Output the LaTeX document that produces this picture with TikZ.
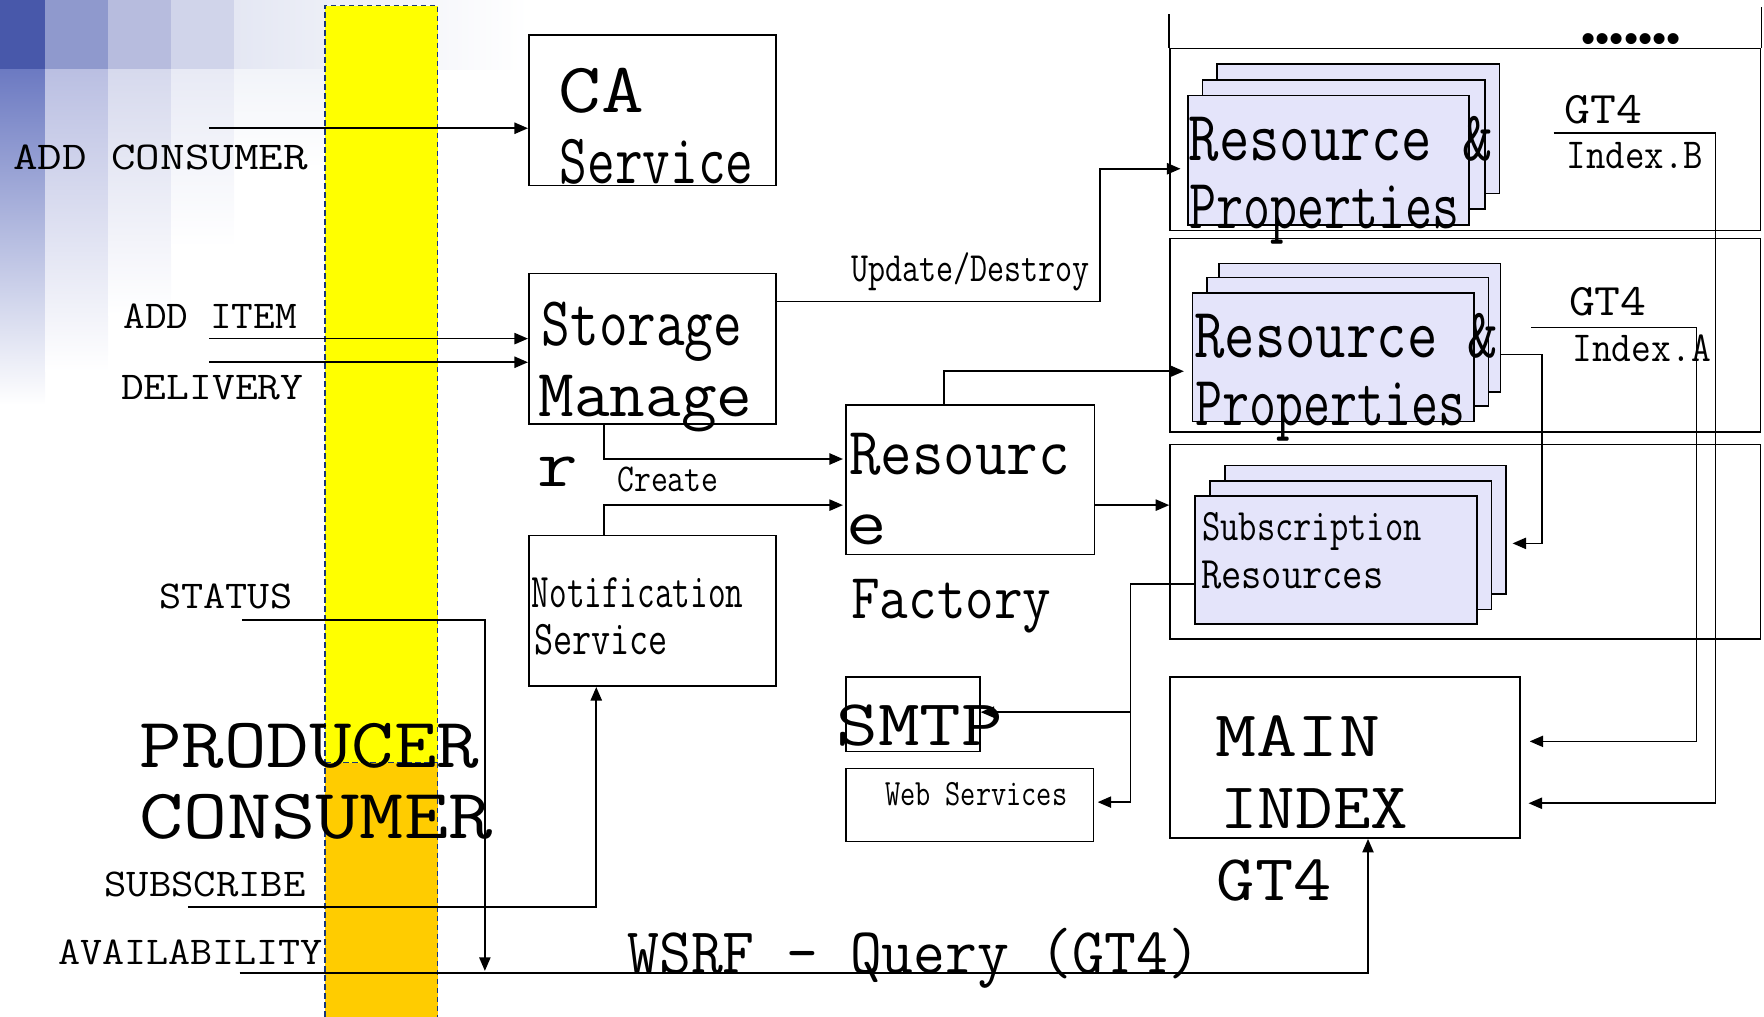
\documentclass[tikz,border=0pt]{standalone}
\usepackage{graphicx}
\usepackage{fontspec}
\usetikzlibrary{arrows.meta}
\newfontfamily\dotsfont{Liberation Sans}
% text of size #1 squeezed or stretched to width #2
\newcommand\tx[3]{\resizebox{#2pt}{\height}{\fontsize{#1}{#1}\selectfont #3}}
\definecolor{bandblue}{RGB}{25,55,120}
\definecolor{bandyellow}{RGB}{255,255,0}
\definecolor{bandorange}{RGB}{255,204,0}
\definecolor{cardfill}{RGB}{228,228,250}
\definecolor{bgA}{RGB}{72,88,170}
\definecolor{bgAl}{RGB}{108,122,194}
\definecolor{bgB}{RGB}{143,153,205}
\definecolor{bgBl}{RGB}{186,191,226}
\definecolor{bgC}{RGB}{183,188,222}
\definecolor{bgCl}{RGB}{214,217,237}
\definecolor{bgD}{RGB}{208,212,234}
\definecolor{bgDl}{RGB}{232,234,245}
\definecolor{bgE}{RGB}{228,231,243}
\definecolor{bgEl}{RGB}{242,244,249}
\begin{document}
\begin{tikzpicture}[x=1pt,y=-1pt,line width=1.4pt,
  box/.style={draw,inner sep=0pt},
  card/.style={draw,fill=cardfill,inner sep=0pt},
  lbl/.style={inner sep=0pt,anchor=base west,font=\ttfamily},
  arr/.style={-{Triangle[length=12pt,width=10pt]}},
  bandline/.style={draw=bandblue,line width=1.2pt,dash pattern=on 5pt off 3pt}]
\useasboundingbox (0,0) rectangle (1568,904);

% corner decoration of the slide
\fill[bgA] (0,0) rectangle (40,62);
\fill[bgB] (40,0) rectangle (96,62);
\fill[bgC] (96,0) rectangle (152,62);
\fill[bgD] (152,0) rectangle (208,62);
\shade[left color=bgE,right color=white] (208,0) rectangle (470,62);
\shade[top color=bgAl,bottom color=white] (0,62) rectangle (40,360);
\shade[top color=bgBl,bottom color=white] (40,62) rectangle (96,330);
\shade[top color=bgCl,bottom color=white] (96,62) rectangle (152,280);
\shade[top color=bgDl,bottom color=white] (152,62) rectangle (208,220);
\shade[top color=bgEl,bottom color=white] (208,62) rectangle (300,150);

% producer / consumer band
\fill[bandyellow] (289,5) rectangle (389,678);
\fill[bandorange] (289,678) rectangle (389,904);
\draw[bandline] (289,904) -- (289,5) -- (389,5) -- (389,904);
\draw[bandline] (289,678) -- (389,678);

% service boxes
\node[box,minimum width=220pt,minimum height=134pt] (ca) at (580,98) {};
\node[box,minimum width=220pt,minimum height=134pt] (sm) at (580,310) {};
\node[box,minimum width=220pt,minimum height=134pt] (ns) at (580,543) {};
\node[box,minimum width=221pt,minimum height=133pt] (fac) at (862.5,426.5) {};
\node[box,minimum width=119pt,minimum height=66pt] (smtp) at (811.5,635) {};
\node[box,minimum width=220pt,minimum height=65pt] (web) at (862,715.5) {};
\node[box,minimum width=311pt,minimum height=143pt] (mi) at (1195.5,673.5) {};

% GT4 containers
\node[box,minimum width=525pt,minimum height=162pt] (fr1) at (1302.5,124) {};
\node[box,minimum width=525pt,minimum height=172pt] (fr2) at (1302.5,298) {};
\node[box,minimum width=525pt,minimum height=173pt] (fr3) at (1302.5,481.5) {};
\draw (fr1.north west) -- ++(0,-30);
\draw (fr1.north east) -- ++(0,-36);

% stacked resources, index B
\node[card,minimum width=251pt,minimum height=115pt] (rpB3) at (1207.5,114.5) {};
\node[card,minimum width=251pt,minimum height=115pt] (rpB2) at (1194.5,128.5) {};
\node[card,minimum width=250pt,minimum height=115pt] (rpB1) at (1181,142.5) {};
% stacked resources, index A
\node[card,minimum width=250pt,minimum height=114pt] (rpA3) at (1208.7,291.3) {};
\node[card,minimum width=250pt,minimum height=114pt] (rpA2) at (1198,303.8) {};
\node[card,minimum width=250pt,minimum height=114pt] (rpA1) at (1185,317.5) {};
% stacked subscriptions
\node[card,minimum width=250pt,minimum height=114pt] (sB3) at (1213.8,470.8) {};
\node[card,minimum width=250pt,minimum height=114pt] (sB2) at (1200.6,484.6) {};
\node[card,minimum width=251pt,minimum height=114pt] (sB1) at (1187.5,497.7) {};

% free ends of the input lines
\coordinate (inCons) at (186,114);
\coordinate (inItem) at (186,301);
\coordinate (inDeliv) at (186,322);
\coordinate (inStatus) at (215,551);
\coordinate (outStatus) at (431,863);
\coordinate (inSub) at (167,806);
\coordinate (inAvail) at (213,865);
\coordinate (gtB) at (1381,118);
\coordinate (gtA) at (1361,291);
\coordinate (split) at (1005,519);
\coordinate (toSmtp) at (1005,633);
\coordinate (toWeb) at (1005,713);

% connectors
\draw[arr] (inCons) -- (inCons -| ca.west);
\draw[arr] (inItem) -- (inItem -| sm.west);
\draw[arr] (inDeliv) -- (inDeliv -| sm.west);
\draw[arr] (inStatus) -| (outStatus);
\draw[arr] (inSub) -| ([xshift=-50pt]ns.south);
\draw[arr] (inAvail) -| ([xshift=20.5pt]mi.south);
\draw[arr,shorten >=2pt] ([xshift=-43pt]sm.south) |- ([yshift=18.5pt]fac.west);
\draw[arr,shorten >=2pt] ([xshift=-43pt]ns.north) |- ([yshift=-22.5pt]fac.west);
\draw[arr,shorten >=6pt] ([yshift=42pt]sm.east) -- ++(287,0) |- ([yshift=-7.5pt]rpB1.west);
\draw[arr,shorten >=7pt] ([xshift=-23.5pt]fac.north) |- ([yshift=-12.5pt]rpA1.west);
\draw[arr] ([yshift=-22.5pt]fac.east) -- ([yshift=-22.5pt]fac.east -| fr3.west);
\draw[arr,shorten >=5pt] ([yshift=-23.7pt]rpA3.east) -- ++(36,0) |- ([yshift=-12.2pt]sB3.east);
\draw[arr,shorten >=7pt] (gtB) -- ++(144,0) |- ([yshift=-40.5pt]mi.east);
\draw[arr,shorten >=8pt] (gtA) -- ++(147,0) |- ([yshift=14.5pt]mi.east);
\draw ([yshift=-21.3pt]sB1.west) -- (split) -- (toWeb);
\draw[arr,shorten >=3pt] (toWeb) -- (toWeb -| web.east);
\draw[arr] (toSmtp) -- (toSmtp -| smtp.east);

% input labels
\node[lbl] (tCons) at (11,151) {\tx{35}{262}{ADD CONSUMER}};
\node[lbl] (tItem) at (109,292) {\tx{35}{154}{ADD ITEM}};
\node[lbl] (tDeliv) at (107,355) {\tx{35}{162}{DELIVERY}};
\node[lbl] (tStatus) at (141,541) {\tx{35}{118}{STATUS}};
\node[lbl] (tSub) at (92,797) {\tx{35}{179}{SUBSCRIBE}};
\node[lbl] (tAvail) at (51,857) {\tx{35}{235}{AVAILABILITY}};
\node[lbl] (tProd) at (123,682) {\tx{63}{302}{PRODUCER}};
\node[lbl] (tConsu) at (123,745) {\tx{63}{314}{CONSUMER}};

% box texts
\node[lbl] (tCA) at (496,100) {\tx{63}{76}{CA}};
\node[lbl] (tCAs) at (497,163) {\tx{63}{172}{Service}};
\node[lbl] (tSto) at (481,307) {\tx{62}{178}{Storage}};
\node[lbl] (tMan) at (478,370) {\tx{60}{190}{Manage}};
\node[lbl] (tManr) at (477,432) {\tx{60}{36}{r}};
\node[lbl] (tUpd) at (756,250) {\tx{37}{212}{Update/Destroy}};
\node[lbl] (tCre) at (548,437) {\tx{35}{90}{Create}};
\node[lbl] (tNot) at (472,540) {\tx{43}{188}{Notification}};
\node[lbl] (tNots) at (474,582) {\tx{43}{119}{Service}};
\node[lbl] (tRes) at (754,422) {\tx{60}{196}{Resourc}};
\node[lbl] (tRese) at (752,484) {\tx{60}{36}{e}};
\node[lbl] (tFac) at (756,550) {\tx{57}{178}{Factory}};
\node[lbl] (tRPB) at (1056,143) {\tx{63}{270}{Resource \&}};
\node[lbl] (tRPBp) at (1057,203) {\tx{63}{240}{Properties}};
\node[lbl] (tRPA) at (1061,318) {\tx{63}{270}{Resource \&}};
\node[lbl] (tRPAp) at (1062,378) {\tx{63}{240}{Properties}};
\node[lbl] (tGTB) at (1390,110) {\tx{40}{69}{GT4}};
\node[lbl] (tIdxB) at (1392,150) {\tx{38}{121}{Index.B}};
\node[lbl] (tGTA) at (1394,280) {\tx{40}{69}{GT4}};
\node[lbl] (tIdxA) at (1397,321) {\tx{38}{123}{Index.A}};
\node[lbl] (tSubs) at (1068,480) {\tx{40}{195}{Subscription}};
\node[lbl] (tSubr) at (1067,523) {\tx{40}{162}{Resources}};
\node[lbl] (tSMTP) at (743,663) {\tx{58}{148}{SMTP}};
\node[lbl] (tWeb) at (786,716) {\tx{33}{162}{Web Services}};
\node[lbl] (tMain) at (1080,672) {\tx{58}{146}{MAIN}};
\node[lbl] (tIndex) at (1084,736) {\tx{58}{167}{INDEX}};
\node[lbl] (tGT) at (1081,800) {\tx{58}{102}{GT4}};
\node[lbl] (tWSRF) at (557,865) {\tx{58}{509}{WSRF – Query (GT4)}};
\node[inner sep=0pt,font=\dotsfont\fontsize{36}{36}\selectfont] (tDots) at (1450,38) {•••••••};
\end{tikzpicture}
\end{document}
